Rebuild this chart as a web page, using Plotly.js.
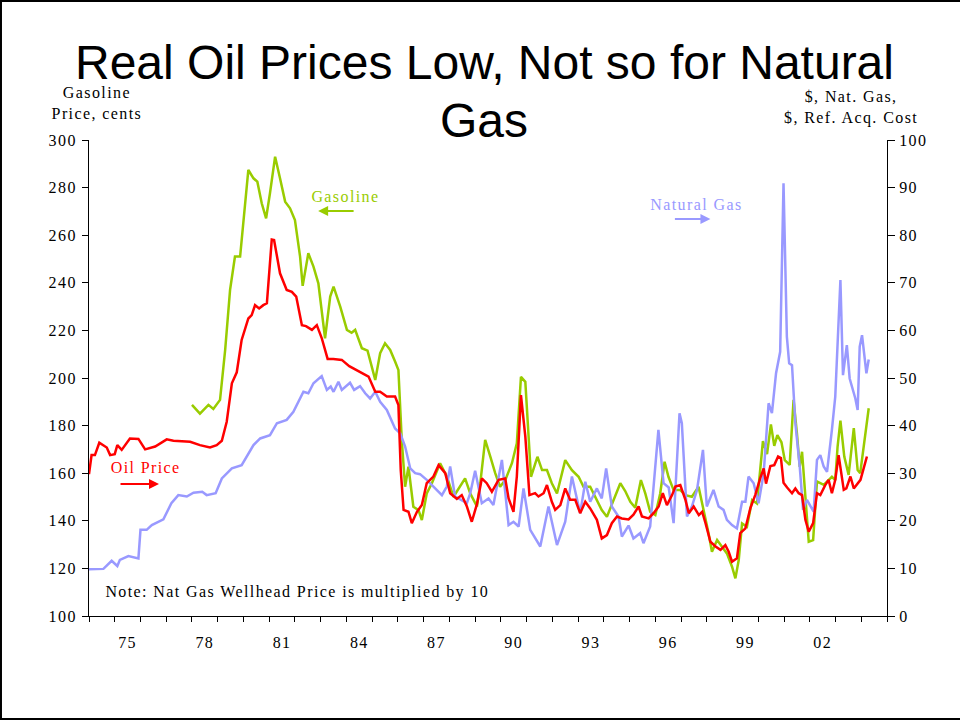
<!DOCTYPE html>
<html>
<head>
<meta charset="utf-8">
<script src="https://cdn.plot.ly/plotly-3.0.1.min.js"></script>
<style>html,body{margin:0;padding:0;background:#fff;}#chart{width:960px;height:721px;}</style>
</head>
<body>
<div id="chart"></div>
<script>
// Gasoline price, cents (left axis)
const gasolineYears = [1978.0,1978.31,1978.64,1978.83,1979.09,1979.29,1979.48,1979.67,1979.87,1980.06,1980.19,1980.39,1980.54,1980.71,1980.88,1981.03,1981.23,1981.42,1981.62,1981.81,1982.0,1982.2,1982.3,1982.52,1982.72,1982.91,1983.17,1983.37,1983.5,1983.76,1984.02,1984.2,1984.34,1984.6,1984.82,1985.12,1985.31,1985.5,1985.7,1985.89,1986.02,1986.15,1986.28,1986.41,1986.6,1986.8,1986.93,1987.12,1987.32,1987.64,1987.9,1988.16,1988.42,1988.61,1988.81,1989.07,1989.2,1989.39,1989.59,1989.78,1989.97,1990.17,1990.43,1990.62,1990.78,1990.95,1991.17,1991.42,1991.6,1991.79,1991.98,1992.18,1992.5,1992.76,1993.02,1993.21,1993.47,1993.73,1993.92,1994.12,1994.38,1994.64,1994.83,1995.03,1995.22,1995.44,1995.61,1995.8,1996.0,1996.19,1996.36,1996.51,1996.71,1996.97,1997.17,1997.42,1997.68,1997.88,1998.07,1998.2,1998.4,1998.59,1998.78,1998.98,1999.11,1999.24,1999.37,1999.56,1999.76,1999.95,2000.18,2000.34,2000.49,2000.62,2000.74,2000.9,2001.03,2001.22,2001.37,2001.5,2001.61,2001.7,2001.8,2001.96,2002.13,2002.28,2002.41,2002.54,2002.73,2002.86,2002.99,2003.08,2003.19,2003.34,2003.51,2003.71,2003.86,2003.96,2004.29];
const gasolineCents = [188.7,185.0,188.7,187.0,190.8,211.8,237.0,251.0,251.0,274.8,287.4,283.9,282.5,273.4,267.1,277.6,293.0,283.9,274.1,271.3,266.4,251.0,238.7,252.4,246.8,239.8,216.7,234.2,238.4,230.0,220.2,219.0,220.2,212.5,211.5,199.2,210.4,214.6,211.8,206.9,203.4,173.9,154.3,162.7,145.9,144.5,140.3,151.5,155.8,164.2,158.6,150.1,154.3,157.8,151.5,146.0,155.8,174.0,167.0,160.0,154.3,157.1,164.2,172.6,200.5,198.4,158.5,166.9,161.3,161.3,155.8,151.5,165.5,161.3,158.5,154.3,154.3,148.7,144.5,141.7,148.7,155.8,152.5,148.0,145.5,157.1,151.5,143.8,142.4,151.5,164.8,158.5,152.9,152.9,150.8,150.1,154.3,144.5,134.7,127.0,131.9,129.1,126.3,120.7,115.8,123.5,138.9,137.5,148.7,147.3,173.5,168.0,180.5,171.5,176.0,173.0,165.5,163.5,190.8,176.8,162.7,169.0,153.0,131.2,131.9,156.5,155.8,155.1,157.1,158.5,157.1,171.1,182.1,167.0,159.3,178.9,161.3,160.0,187.3];

// Refiners' acquisition cost, $ (right axis)
const oilYears = [1974.0,1974.1,1974.23,1974.4,1974.69,1974.82,1975.0,1975.1,1975.27,1975.59,1975.92,1976.18,1976.57,1977.02,1977.28,1977.93,1978.31,1978.7,1978.96,1979.16,1979.35,1979.55,1979.74,1979.93,1980.19,1980.32,1980.45,1980.61,1980.77,1980.91,1981.1,1981.19,1981.42,1981.68,1981.88,1982.05,1982.27,1982.43,1982.66,1982.85,1983.04,1983.27,1983.49,1983.82,1984.11,1984.55,1984.86,1985.12,1985.31,1985.57,1985.89,1986.02,1986.11,1986.22,1986.41,1986.54,1986.74,1986.93,1987.12,1987.38,1987.58,1987.84,1988.03,1988.29,1988.48,1988.68,1988.87,1989.07,1989.26,1989.45,1989.65,1989.91,1990.17,1990.3,1990.49,1990.62,1990.78,1990.95,1991.11,1991.33,1991.46,1991.66,1991.79,1991.98,1992.11,1992.31,1992.5,1992.69,1992.89,1993.08,1993.28,1993.47,1993.73,1993.92,1994.12,1994.31,1994.51,1994.7,1994.96,1995.15,1995.35,1995.48,1995.74,1995.93,1996.13,1996.29,1996.45,1996.65,1996.78,1996.97,1997.17,1997.3,1997.49,1997.69,1997.82,1997.95,1998.14,1998.34,1998.53,1998.72,1998.85,1998.98,1999.17,1999.3,1999.5,1999.69,1999.88,2000.08,2000.21,2000.3,2000.47,2000.62,2000.77,2000.88,2000.98,2001.12,2001.31,2001.44,2001.57,2001.7,2001.83,2001.96,2002.13,2002.28,2002.41,2002.6,2002.73,2002.86,2002.99,2003.12,2003.32,2003.42,2003.58,2003.71,2003.97,2004.22];
const oilDollars = [29.8,33.8,33.8,36.4,35.4,33.8,34.0,35.9,34.9,37.3,37.2,35.0,35.6,37.1,36.8,36.6,35.9,35.4,35.9,36.8,40.8,48.9,51.2,58.0,62.5,63.2,65.3,64.6,65.3,65.7,79.1,79.0,72.0,68.5,68.1,67.1,61.1,60.9,60.1,61.1,58.4,54.0,54.0,53.8,52.5,51.3,50.3,47.1,47.1,46.1,46.1,44.3,30.7,22.3,21.9,19.5,21.9,23.3,27.9,29.3,31.7,30.0,25.8,24.6,25.4,23.0,19.8,23.5,28.9,27.9,26.1,28.6,28.9,24.7,21.9,29.3,46.4,37.7,25.4,25.8,25.1,25.8,27.5,24.0,22.3,23.3,26.8,24.4,24.4,21.6,24.0,22.6,20.2,16.3,17.0,19.5,20.9,20.5,20.3,21.3,23.0,20.9,20.5,21.6,23.0,25.8,23.3,25.4,27.2,27.5,24.4,21.6,23.0,21.2,21.9,19.5,15.6,14.6,13.9,14.9,13.5,11.4,12.1,17.4,18.4,22.6,25.4,29.0,31.0,27.8,31.5,31.7,33.5,33.2,28.0,27.0,25.8,26.8,25.8,25.4,20.2,17.7,19.5,25.8,25.4,27.5,28.6,25.8,28.6,33.8,26.5,26.8,29.3,26.8,28.6,33.5];

// Natural gas wellhead price x10 (right axis)
const natGasYears = [1974.0,1974.56,1974.88,1975.1,1975.2,1975.53,1975.92,1976.0,1976.24,1976.44,1976.89,1977.2,1977.47,1977.8,1978.06,1978.4,1978.57,1978.92,1979.16,1979.55,1979.93,1980.39,1980.65,1981.03,1981.3,1981.68,1981.94,1982.33,1982.52,1982.72,1983.04,1983.24,1983.39,1983.5,1983.69,1983.82,1984.14,1984.3,1984.53,1984.73,1984.92,1985.12,1985.31,1985.57,1985.89,1986.09,1986.28,1986.48,1986.67,1986.86,1987.12,1987.38,1987.71,1987.9,1988.03,1988.22,1988.48,1988.68,1988.81,1989.0,1989.26,1989.52,1989.71,1990.04,1990.3,1990.49,1990.69,1990.88,1991.14,1991.53,1991.85,1992.18,1992.5,1992.76,1993.08,1993.28,1993.47,1993.73,1993.92,1994.09,1994.31,1994.57,1994.7,1994.96,1995.15,1995.41,1995.54,1995.8,1996.12,1996.32,1996.52,1996.71,1996.94,1997.03,1997.23,1997.42,1997.62,1997.85,1998.0,1998.26,1998.46,1998.65,1998.78,1998.98,1999.17,1999.37,1999.5,1999.62,1999.82,2000.01,2000.21,2000.4,2000.53,2000.69,2000.85,2000.98,2001.11,2001.2,2001.31,2001.44,2001.61,2001.74,2001.89,2002.15,2002.28,2002.41,2002.54,2002.67,2002.86,2002.99,2003.19,2003.29,2003.44,2003.55,2003.77,2003.86,2003.94,2004.03,2004.2,2004.29];
const natGasX10 = [9.8,9.9,11.6,10.5,11.8,12.6,12.1,18.1,18.1,19.1,20.3,23.7,25.4,25.1,25.9,26.1,25.4,25.8,28.9,31.0,31.7,35.9,37.3,38.0,40.5,41.2,42.9,47.1,46.8,48.9,50.4,47.5,48.2,47.1,49.2,47.5,49.0,47.5,48.3,46.8,45.7,47.1,45.0,43.3,39.4,38.4,35.6,31.0,30.0,29.8,28.6,27.2,25.4,27.2,31.4,25.1,24.4,23.7,25.8,30.5,23.7,24.7,23.3,32.8,19.1,19.8,18.8,26.8,18.1,14.6,23.0,14.9,19.8,29.3,21.6,28.2,24.0,26.8,24.7,31.0,23.0,20.9,16.7,19.0,16.3,17.4,15.3,18.8,39.1,27.9,27.0,19.5,42.6,40.5,20.9,23.0,26.5,34.9,23.0,26.5,23.0,22.3,20.2,19.1,18.4,24.0,24.0,29.3,27.9,23.7,30.0,44.7,42.6,51.0,55.5,90.9,58.7,53.1,52.7,40.5,31.4,22.3,24.4,21.9,32.8,33.8,31.4,30.3,39.1,46.1,70.6,50.6,56.9,49.9,45.7,43.3,56.6,59.0,51.0,53.9];

// Axis ticks
const yearTicks = [1974,1975,1976,1977,1978,1979,1980,1981,1982,1983,1984,1985,1986,1987,1988,1989,1990,1991,1992,1993,1994,1995,1996,1997,1998,1999,2000,2001,2002,2003,2004,2005];
const labelPositions = [1975.5,1978.5,1981.5,1984.5,1987.5,1990.5,1993.5,1996.5,1999.5,2002.5];
const tickLabels = ['75','78','81','84','87','90','93','96','99','02'];

const GREEN = '#99cc00', RED = '#ff0000', BLUE = '#9999ff';
const SERIF = 'Liberation Serif, Times New Roman, serif';
const SANS = 'Liberation Sans, Arial, sans-serif';

const traces = [
  {x: natGasYears, y: natGasX10, yaxis: 'y2', mode: 'lines', line: {color: BLUE, width: 2.5}, name: 'Natural Gas', hoverinfo: 'skip'},
  {x: gasolineYears, y: gasolineCents, yaxis: 'y', mode: 'lines', line: {color: GREEN, width: 2.5}, name: 'Gasoline', hoverinfo: 'skip'},
  {x: oilYears, y: oilDollars, yaxis: 'y2', mode: 'lines', line: {color: RED, width: 2.5}, name: 'Oil Price', hoverinfo: 'skip'}
];

const layout = {
  width: 960, height: 721,
  margin: {l: 89, r: 73, t: 140, b: 105, pad: 0},
  paper_bgcolor: '#fff', plot_bgcolor: '#fff',
  showlegend: false,
  font: {family: SERIF, size: 16, color: '#000'},
  xaxis: {
    range: [1974, 2005], showgrid: false, zeroline: false,
    showline: true, linecolor: '#000', linewidth: 1,
    tickmode: 'array', tickvals: labelPositions, ticktext: tickLabels,
    ticks: 'outside', ticklen: 0, tickfont: {family: SERIF, size: 16},
    ticklabelstandoff: 12,
    minor: {tickmode: 'array', tickvals: yearTicks, ticks: 'outside', ticklen: 5, tickcolor: '#000', tickwidth: 1, showgrid: false}
  },
  yaxis: {
    range: [100, 300], dtick: 20, tick0: 100, showgrid: false, zeroline: false,
    showline: true, linecolor: '#000', linewidth: 1,
    ticks: 'outside', ticklen: 6, tickcolor: '#000', tickfont: {family: SERIF, size: 16},
    ticklabelstandoff: 2
  },
  yaxis2: {
    range: [0, 100], dtick: 10, tick0: 0, overlaying: 'y', side: 'right',
    showgrid: false, zeroline: false,
    showline: true, linecolor: '#000', linewidth: 1,
    ticks: 'outside', ticklen: 7, tickcolor: '#000', tickfont: {family: SERIF, size: 16},
    ticklabelstandoff: 1
  },
  shapes: [
    {type: 'rect', xref: 'paper', yref: 'paper', x0: -0.1103, x1: 1.25, y0: -0.2164, y1: 1.292,
     line: {color: '#000', width: 2}, fillcolor: 'rgba(0,0,0,0)', layer: 'above'}
  ],
  annotations: [
    {text: 'Real Oil Prices Low, Not so for Natural', xref: 'paper', yref: 'paper', x: 0.4955, y: 1.1026, xanchor: 'center', yanchor: 'bottom', showarrow: false, font: {family: SANS, size: 48, color: '#000'}},
    {text: 'Gas', xref: 'paper', yref: 'paper', x: 0.4955, y: 0.9806, xanchor: 'center', yanchor: 'bottom', showarrow: false, font: {family: SANS, size: 48, color: '#000'}},
    {text: 'Gasoline<br>Price, cents', xref: 'paper', yref: 'paper', x: 0.010, y: 1.0326, xanchor: 'center', yanchor: 'bottom', showarrow: false, align: 'center', font: {family: SERIF, size: 16}},
    {text: '$, Nat. Gas,<br>$, Ref. Acq. Cost', xref: 'paper', yref: 'paper', x: 0.955, y: 1.0226, xanchor: 'center', yanchor: 'bottom', showarrow: false, align: 'center', font: {family: SERIF, size: 16}},
    {text: 'Note: Nat Gas Wellhead Price is multiplied by 10', xref: 'x', yref: 'y', x: 1982.1, y: 110, xanchor: 'center', yanchor: 'middle', showarrow: false, font: {family: SERIF, size: 16}},
    {text: 'Gasoline', xref: 'x', yref: 'y', x: 1983.96, y: 276.3, xanchor: 'center', yanchor: 'middle', showarrow: false, font: {family: SERIF, size: 16, color: GREEN}},
    {text: '', xref: 'x', yref: 'y', x: 1982.9, y: 270.2, showarrow: true, ax: 37, ay: 0, arrowhead: 2, arrowsize: 1, arrowwidth: 2, arrowcolor: GREEN},
    {text: 'Oil Price', xref: 'x', yref: 'y', x: 1976.18, y: 162.2, xanchor: 'center', yanchor: 'middle', showarrow: false, font: {family: SERIF, size: 16, color: RED}},
    {text: '', xref: 'x', yref: 'y', x: 1976.72, y: 155.5, showarrow: true, ax: -40, ay: 0, arrowhead: 2, arrowsize: 1, arrowwidth: 2, arrowcolor: RED},
    {text: 'Natural Gas', xref: 'x', yref: 'y', x: 1997.59, y: 273.1, xanchor: 'center', yanchor: 'middle', showarrow: false, font: {family: SERIF, size: 16, color: BLUE}},
    {text: '', xref: 'x', yref: 'y', x: 1998.14, y: 266.8, showarrow: true, ax: -37, ay: 0, arrowhead: 2, arrowsize: 1, arrowwidth: 2, arrowcolor: BLUE}
  ]
};

Plotly.newPlot('chart', traces, layout, {displayModeBar: false, staticPlot: true}).then(function (gd) {
  // The original's serif text is set with slightly looser letter spacing
  gd.querySelectorAll('text').forEach(function (t) {
    if ((t.style.fontFamily || '').indexOf('Liberation Serif') !== -1) {
      t.style.letterSpacing = '1.4px';
    }
  });
});
</script>
</body>
</html>
